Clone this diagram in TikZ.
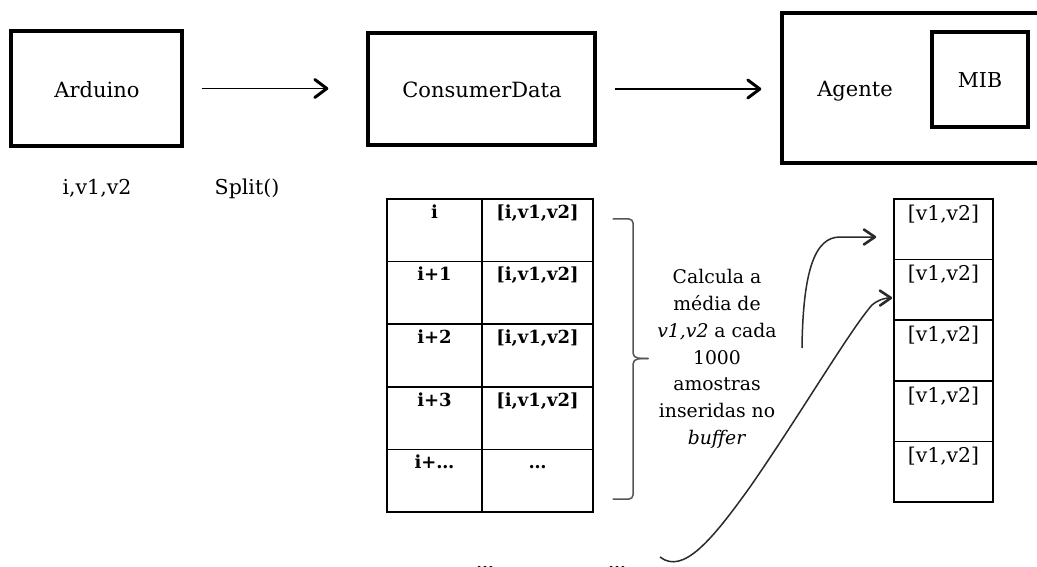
\documentclass[tikz,border=0pt]{standalone}
\usepackage{fontspec}
\setmainfont{DejaVu Serif}
\usetikzlibrary{arrows.meta}
\definecolor{curvecol}{HTML}{2A2A2A}
\definecolor{bracecol}{HTML}{555555}
\tikzset{
  bigbox/.style={draw,line width=3.4pt,inner sep=0pt},
  lbl/.style={font=\fontsize{21}{25}\selectfont,anchor=base,inner sep=0pt},
  sublbl/.style={font=\fontsize{20.5}{24}\selectfont,anchor=base,inner sep=0pt},
  cell/.style={draw,line width=1.6pt,inner sep=0pt},
  tbold/.style={font=\bfseries\fontsize{18}{22}\selectfont,anchor=base,inner sep=0pt},
  treg/.style={font=\fontsize{20.3}{24}\selectfont,anchor=base,inner sep=0pt},
  arr/.style={line width=1.5pt,-{Straight Barb[length=12pt,width=18pt,line width=3pt,round]}},
  carr/.style={line width=1.5pt,draw=curvecol,-{Straight Barb[length=11pt,width=15pt,line width=2.6pt,round]}},
  bracestyle/.style={line width=1.5pt,draw=bracecol,line cap=round}
}
\begin{document}
\begin{tikzpicture}[x=1pt,y=-1pt]
\useasboundingbox (0,0) rectangle (1037,567);
\fill[white] (0,0) rectangle (1037,567);
% top boxes
\node[bigbox,minimum width=171pt,minimum height=115pt] (ard) at (96.5,88.5) {};
\node[lbl] (ardt) at (97,98) {Arduino};
\node[bigbox,minimum width=227pt,minimum height=112pt] (cons) at (481.5,89) {};
\node[lbl] (const) at (482,98) {ConsumerData};
\node[bigbox,minimum width=263pt,minimum height=150pt] (ag) at (913.5,88) {};
\node[lbl] (agt) at (855,97) {Agente};
\node[bigbox,minimum width=96pt,minimum height=95pt] (mib) at (980,79.5) {};
\node[sublbl] (mibt) at (980,88) {MIB};
% top arrows
\draw[arr] ([xshift=18pt]ard.east) -- ([xshift=-38pt]ard.east -| cons.west);
\draw[arr] ([xshift=18pt]cons.east) -- ([xshift=-19pt]cons.east -| ag.west);
% labels
\node[sublbl] (lab1) at (97,195) {i,v1,v2};
\node[sublbl] (lab2) at (247,195) {Split()};
% left table
\foreach \n/\a/\b in {0/i/{[i,v1,v2]},1/i+1/{[i,v1,v2]},2/i+2/{[i,v1,v2]},3/i+3/{[i,v1,v2]},4/i+…/…}{
  \pgfmathsetmacro\yy{199+62.6*\n+31.3}
  \node[cell,minimum width=95pt,minimum height=62.6pt] (La\n) at (434.5,\yy) {};
  \node[cell,minimum width=111pt,minimum height=62.6pt] (Lb\n) at (537.5,\yy) {};
  \node[tbold] (Lat\n) at ([yshift=-20pt]La\n.north) {\a};
  \node[tbold] (Lbt\n) at ([yshift=-20pt]Lb\n.north) {\b};
}
% brace
\draw[bracestyle] (613,219) -- (629,219) to[out=0,in=90] (633,223) -- (633,353) to[out=-90,in=180] (648,358.5);
\draw[bracestyle] (648,358.5) to[out=180,in=90] (633,364) -- (633,495) to[out=-90,in=0] (629,499) -- (613,499);
% text
\node[font=\fontsize{18.8}{26.8}\selectfont,align=center,inner sep=0pt] (calc) at (717,359)
  {Calcula a\\média de\\\textit{v1,v2} a cada\\1000\\amostras\\inseridas no\\\textit{buffer}};
% right table
\foreach \n in {0,...,4}{
  \pgfmathsetmacro\yy{199+60.6*\n+30.3}
  \node[cell,minimum width=99pt,minimum height=60.6pt] (R\n) at (943.5,\yy) {};
  \node[treg] (Rt\n) at ([yshift=-22pt]R\n.north) {[v1,v2]};
}
% curved arrows
\coordinate (c1s) at (802,348);
\draw[carr] (c1s) .. controls (803,270) and (815,237) .. (840,237) -- ([shift={(-17pt,-7.7pt)}]R0.west);
\coordinate (c2s) at (660,557);
\draw[carr] (c2s) .. controls (683,575) and (712,540) .. (750,487)
  .. controls (800,415) and (850,330) .. (872,305)
  .. controls (878,300) and (884,298) .. ([shift={(-1pt,-8pt)}]R1.west);
% dots cut off at the bottom edge, as in the reference
\node[tbold] (d1) at (485,569) {…};
\node[tbold] (d2) at (617,569) {…};
\end{tikzpicture}
\end{document}
